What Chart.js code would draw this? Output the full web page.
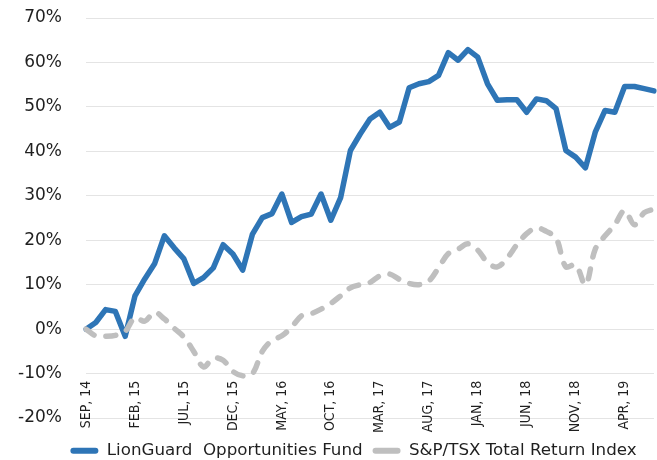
<!DOCTYPE html>
<html>
<head>
<meta charset="utf-8">
<script src="https://cdn.jsdelivr.net/npm/chart.js@4"></script>
<style>
  html, body { margin: 0; padding: 0; background: #fff; }
  #wrap { width: 657px; height: 460px; }
</style>
</head>
<body>
<div id="wrap"><canvas id="chart"></canvas></div>
<script>
const months = [
  'SEP, 14', 'OCT, 14', 'NOV, 14', 'DEC, 14', 'JAN, 15', 'FEB, 15', 'MAR, 15', 'APR, 15', 'MAY, 15', 'JUN, 15',
  'JUL, 15', 'AUG, 15', 'SEP, 15', 'OCT, 15', 'NOV, 15', 'DEC, 15', 'JAN, 16', 'FEB, 16', 'MAR, 16', 'APR, 16',
  'MAY, 16', 'JUN, 16', 'JUL, 16', 'AUG, 16', 'SEP, 16', 'OCT, 16', 'NOV, 16', 'DEC, 16', 'JAN, 17', 'FEB, 17',
  'MAR, 17', 'APR, 17', 'MAY, 17', 'JUN, 17', 'JUL, 17', 'AUG, 17', 'SEP, 17', 'OCT, 17', 'NOV, 17', 'DEC, 17',
  'JAN, 18', 'FEB, 18', 'MAR, 18', 'APR, 18', 'MAY, 18', 'JUN, 18', 'JUL, 18', 'AUG, 18', 'SEP, 18', 'OCT, 18',
  'NOV, 18', 'DEC, 18', 'JAN, 19', 'FEB, 19', 'MAR, 19', 'APR, 19', 'MAY, 19', 'JUN, 19', 'JUL, 19'
];

// cumulative return, %
const fundReturns = [
  0, 1.5, 4.4, 4.0, -1.6, 7.5, 11.3, 14.7, 21.0, 18.3,
  15.8, 10.3, 11.6, 13.8, 19.0, 16.9, 13.3, 21.4, 25.1, 26.0,
  30.4, 24.0, 25.3, 25.9, 30.4, 24.5, 29.6, 40.2, 43.9, 47.3,
  48.8, 45.4, 46.6, 54.3, 55.2, 55.7, 57.1, 62.2, 60.5, 62.9,
  61.2, 55.2, 51.5, 51.6, 51.6, 48.8, 51.8, 51.4, 49.6, 40.2,
  38.7, 36.3, 44.3, 49.2, 48.8, 54.6, 54.6, 54.1, 53.6
];
const tsxReturns = [
  0, -1.5, -1.6, -1.4, -0.5, 2.6, 1.8, 3.8, 2.3, 0.2,
  -1.8, -5, -8.5, -6.5, -7, -9.5, -10.5, -10, -5, -2.5,
  -1.5, 0.5, 3, 3.5, 4.5, 5.8, 7.5, 9.3, 10, 10.5,
  12, 12.4, 11.2, 10.3, 10, 10.8, 13.8, 17, 18, 19.2,
  17.8, 15, 14, 16, 19, 21.5, 22.8, 22, 20.5, 14,
  14.5, 10, 18, 21, 23.5, 26.7, 23.5, 26.2, 27
];
const yTicks = [-20, -10, 0, 10, 20, 30, 40, 50, 60, 70];

const blue = '#2E75B6';
const grey = '#BFBFBF';
const textColor = '#1f1f1f';
const yFont = { family: 'DejaVu Sans', size: 17 };

// widest y label, so the mirrored labels can be pulled back left of the plot
const meas = document.createElement('canvas').getContext('2d');
meas.font = yFont.size + 'px "' + yFont.family + '"';
const yLabelWidth = Math.max(...yTicks.map(v => meas.measureText(v + '%').width));

const ctx = document.getElementById('chart').getContext('2d');
new Chart(ctx, {
  type: 'line',
  data: {
    labels: months,
    datasets: [
      {
        label: 'LionGuard  Opportunities Fund',
        data: fundReturns,
        borderColor: blue,
        backgroundColor: blue,
        borderWidth: 5.5,
        borderJoinStyle: 'round',
        borderCapStyle: 'round',
        pointRadius: 0,
        tension: 0,
        order: 1
      },
      {
        label: 'S&P/TSX Total Return Index',
        data: tsxReturns,
        borderColor: grey,
        backgroundColor: grey,
        borderWidth: 5.5,
        borderDash: [10, 12],
        borderCapStyle: 'round',
        pointRadius: 0,
        tension: 0.35,
        order: 0
      }
    ]
  },
  options: {
    responsive: true,
    maintainAspectRatio: false,
    animation: false,
    layout: { padding: { left: 53, right: 3, top: 18, bottom: -9 } },
    plugins: {
      tooltip: { enabled: false },
      legend: {
        position: 'bottom',
        labels: {
          color: textColor,
          font: { family: 'DejaVu Sans', size: 16.7 },
          boxWidth: 28,
          boxHeight: 6,
          padding: 10,
          sort: (a, b) => a.datasetIndex - b.datasetIndex,
          generateLabels: function (chart) {
            const items = Chart.defaults.plugins.legend.labels.generateLabels(chart);
            items.forEach(function (it) {
              it.lineWidth = 0;
              it.lineDash = [];
              it.borderRadius = 3;
            });
            return items;
          },
          useBorderRadius: true,
          borderRadius: 3
        }
      }
    },
    scales: {
      x: {
        position: { y: -10 },
        grid: { display: false, drawTicks: false },
        border: { display: false },
        afterFit: function (scale) {
          scale.paddingLeft = 0;
          scale.paddingRight = 0;
        },
        ticks: {
          autoSkip: false,
          maxRotation: 90,
          minRotation: 90,
          padding: 7,
          color: textColor,
          font: { family: "'Liberation Sans Narrow', 'DejaVu Sans Condensed', sans-serif", size: 14 },
          callback: function (value, index) {
            return index % 5 === 0 ? months[index] : '';
          }
        }
      },
      y: {
        min: -23.2,
        max: 70,
        afterBuildTicks: function (scale) {
          scale.ticks = yTicks.map(v => ({ value: v }));
        },
        afterFit: function (scale) {
          scale.width = 33;
        },
        grid: { color: '#E4E4E4', lineWidth: 1, drawTicks: false },
        border: { display: false },
        ticks: {
          mirror: true,
          crossAlign: 'far',
          padding: -24 - yLabelWidth,
          color: textColor,
          font: yFont,
          callback: v => v + '%'
        }
      }
    }
  }
});
</script>
</body>
</html>
